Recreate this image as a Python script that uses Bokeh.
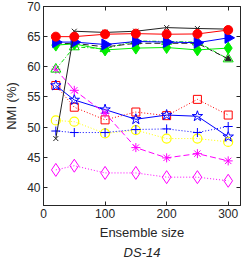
import numpy as np
from bokeh.plotting import figure
from bokeh.models import LinearAxis, Range1d, FixedTicker, Title
from bokeh.embed import file_html
from bokeh.resources import INLINE

sizes = [20, 50, 100, 150, 200, 250, 300]
red_circle = [65.0, 65.0, 65.4, 65.5, 65.4, 65.45, 66.1]
black_x = [48.1, 65.9, 65.7, 65.9, 66.5, 66.35, 66.25]
blue_tri = [64.1, 64.1, 63.7, 64.2, 64.1, 64.0, 64.8]
green_diamond = [63.6, 63.8, 62.8, 63.1, 63.2, 62.8, 63.1]
black_dash = [63.8, 63.9, 63.3, 63.9, 63.9, 63.9, 61.3]
green_tri = [59.6, 63.3, 63.0, 64.3, 64.2, 64.1, 61.3]
magenta_ast = [59.6, 56.1, 52.3, 46.6, 44.9, 45.6, 44.4]
red_sq = [56.9, 53.3, 51.2, 52.5, 51.9, 54.6, 52.0]
blue_star = [56.9, 54.5, 52.9, 51.3, 52.0, 51.8, 48.4]
blue_plus = [49.35, 49.1, 49.1, 49.6, 49.7, 49.1, 50.1]
yellow_circ = [51.1, 50.9, 48.95, 49.5, 48.1, 48.1, 47.55]
magenta_dia = [42.9, 43.6, 42.4, 42.4, 41.7, 41.7, 41.1]

xticks = [0, 100, 200, 300]
yticks = [40, 45, 50, 55, 60, 65, 70]

FONT = "Liberation Sans"
TXT = "#262626"

p = figure(width=242, height=259, output_backend="svg", toolbar_location=None,
           x_range=Range1d(0, 320), y_range=Range1d(37, 70),
           min_border_left=43, min_border_right=2, min_border_top=6, min_border_bottom=0)
p.grid.visible = False
p.outline_line_color = TXT
p.background_fill_color = "white"

for ax in [p.xaxis[0], p.yaxis[0]]:
    ax.major_tick_in = 4
    ax.major_tick_out = 0
    ax.minor_tick_line_color = None
    ax.axis_line_color = TXT
    ax.major_tick_line_color = TXT
    ax.major_label_text_font = FONT
    ax.major_label_text_font_size = "12px"
    ax.major_label_text_color = TXT
    ax.axis_label_text_font = FONT
    ax.axis_label_text_font_size = "13px"
    ax.axis_label_text_font_style = "normal"
    ax.axis_label_text_color = TXT
    ax.major_label_standoff = 3

p.xaxis.ticker = FixedTicker(ticks=xticks)
p.yaxis.ticker = FixedTicker(ticks=yticks)
p.xaxis.axis_label = "Ensemble size"
p.yaxis.axis_label = "NMI (%)"
p.xaxis.axis_label_standoff = 4
p.yaxis.axis_label_standoff = 5

top = LinearAxis(ticker=FixedTicker(ticks=xticks),
                 major_label_overrides={t: "" for t in xticks},
                 major_tick_in=4, major_tick_out=0, minor_tick_line_color=None,
                 axis_line_color=TXT, major_tick_line_color=TXT, major_label_standoff=0)
right = LinearAxis(ticker=FixedTicker(ticks=yticks),
                   major_label_overrides={t: "" for t in yticks},
                   major_tick_in=4, major_tick_out=0, minor_tick_line_color=None,
                   axis_line_color=TXT, major_tick_line_color=TXT, major_label_standoff=0)
p.add_layout(top, "above")
p.add_layout(right, "right")

p.add_layout(Title(text="DS-14", text_font=FONT, text_font_size="13px",
                   text_font_style="italic", text_color=TXT, align="center",
                   standoff=0), "below")

# lower series first
p.line(sizes, magenta_dia, color="#ff00ff", line_dash="1 2", line_width=1)
p.scatter(sizes, magenta_dia, marker="diamond", size=13, fill_color=None,
          line_color="#ff00ff", line_width=1)

p.line(sizes, yellow_circ, color="#ffff00", line_dash="1 2", line_width=1)
p.scatter(sizes, yellow_circ, marker="circle", size=9, fill_color=None,
          line_color="#ffff00", line_width=1.2)

p.line(sizes, blue_plus, color="#0000ff", line_dash="1 2", line_width=1)
p.scatter(sizes, blue_plus, marker="cross", size=9, line_color="#0000ff", line_width=1)

p.line(sizes, red_sq, color="#ff0000", line_dash="1 2", line_width=1)
p.scatter(sizes, red_sq, marker="square", size=8, fill_color=None,
          line_color="#ff0000", line_width=1)

p.line(sizes, blue_star, color="#0000ff", line_width=1)
p.scatter(sizes, blue_star, marker="star", size=11, fill_color=None,
          line_color="#0000ff", line_width=1)

p.line(sizes, magenta_ast, color="#ff00ff", line_dash="6 3", line_width=1)
p.scatter(sizes, magenta_ast, marker="asterisk", size=9, line_color="#ff00ff", line_width=1)

p.line(sizes, green_tri, color="#00dd00", line_dash="4 2 1 2", line_width=1)
p.scatter(sizes, green_tri, marker="triangle", size=10, fill_color=None,
          line_color="#00dd00", line_width=1)

p.line(sizes, black_dash, color="#222222", line_dash="6 3", line_width=1)
p.scatter(sizes, black_dash, marker="triangle", size=6, fill_color="#222222",
          line_color="#222222")

p.line(sizes, green_diamond, color="#00ee00", line_width=1)
p.scatter(sizes, green_diamond, marker="diamond", size=12, fill_color="#00ee00",
          line_color="#00ee00")

p.line(sizes, blue_tri, color="#0000ff", line_width=1)
p.scatter(sizes, blue_tri, marker="triangle", size=11, angle=-np.pi / 2,
          fill_color="#0000ff", line_color="#0000ff")

p.line(sizes, black_x, color="#222222", line_width=1)
p.scatter(sizes, black_x, marker="x", size=7, line_color="#222222", line_width=1)

p.line(sizes, red_circle, color="#ff0000", line_width=1)
p.scatter(sizes, red_circle, marker="circle", size=9, fill_color="#ff0000",
          line_color="#ff0000")

open("out.html", "w").write(file_html(p, INLINE))
